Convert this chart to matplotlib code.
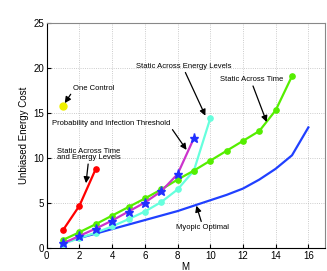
import numpy as np
import matplotlib
matplotlib.use("Agg")
import matplotlib.pyplot as plt

plt.rcParams['font.family'] = ['Liberation Sans', 'DejaVu Sans']

# data
m_red = [1, 2, 3]
y_red = [2.0, 4.7, 8.8]

m_one = [1]
y_one = [15.8]

m_green = list(range(1, 16))
y_green = [0.9, 1.75, 2.65, 3.6, 4.55, 5.5, 6.5, 7.6, 8.6, 9.7, 10.8, 11.9, 13.0, 15.3, 19.1]

m_star = list(range(1, 10))
y_star = [0.5, 1.35, 2.15, 3.05, 4.05, 5.05, 6.3, 8.2, 12.2]

m_cyan = list(range(1, 11))
y_cyan = [0.45, 1.1, 1.7, 2.4, 3.2, 4.05, 5.1, 6.5, 8.6, 14.4]

m_myopic = list(range(1, 17))
y_myopic = [0.6, 1.1, 1.6, 2.1, 2.6, 3.1, 3.6, 4.1, 4.7, 5.3, 5.9, 6.6, 7.6, 8.8, 10.3, 13.4]

fig = plt.figure(figsize=(3.27, 2.71), dpi=100)
ax = fig.add_axes([0.143, 0.085, 0.85, 0.83])

ax.plot(m_myopic, y_myopic, color='#2040ff', lw=1.6)
ax.plot(m_cyan, y_cyan, color='#66ffdd', lw=1.6, marker='o', ms=3.8)
ax.plot(m_green, y_green, color='#55ee00', lw=1.6, marker='o', ms=3.8)
ax.plot(m_star, y_star, color='#cc33cc', lw=1.6)
ax.plot(m_star, y_star, ls='none', marker='*', color='#2030ff', ms=6.5)
ax.plot(m_red, y_red, color='#ff0000', lw=1.6, marker='o', ms=3.8)
ax.plot(m_one, y_one, ls='none', marker='o', color='#eef000', ms=5)

ax.set_xlim(0, 17)
ax.set_ylim(0, 25)
ax.set_xticks(range(0, 17, 2))
ax.set_yticks(range(0, 26, 5))
ax.grid(True, ls=':', color='#bbbbbb', lw=0.6)
ax.tick_params(direction='in', labelsize=7, length=3, pad=2)
ax.set_xlabel('M', fontsize=7, labelpad=1)
ax.set_ylabel('Unbiased Energy Cost', fontsize=7, labelpad=3)
for s in ['top', 'right']:
    ax.spines[s].set_color('#888888')

arr = dict(arrowstyle='-|>', color='black', lw=0.9, mutation_scale=9, shrinkA=0, shrinkB=0)
fs = 5.5
ax.annotate('One Control', xy=(1.1, 16.1), xytext=(2.9, 17.7), fontsize=fs,
            ha='center', va='center', arrowprops=dict(arr, relpos=(0, 0.3)))
ax.annotate('Static Across Energy Levels', xy=(9.7, 14.7), xytext=(8.4, 20.2), fontsize=fs,
            ha='center', va='center', arrowprops=dict(arr, relpos=(0.5, 0)))
ax.annotate('Static Across Time', xy=(13.45, 14.0), xytext=(12.55, 18.7), fontsize=fs,
            ha='center', va='center', arrowprops=dict(arr, relpos=(0.5, 0)))
ax.annotate('Probability and Infection Threshold', xy=(8.55, 10.9), xytext=(3.95, 13.85), fontsize=fs,
            ha='center', va='center', arrowprops=dict(arr, relpos=(1, 0)))
ax.annotate('Static Across Time\nand Energy Levels', xy=(2.4, 7.2), xytext=(2.55, 10.4), fontsize=fs,
            ha='center', va='center', linespacing=0.95, arrowprops=dict(arr, relpos=(0.5, 0)))
ax.annotate('Myopic Optimal', xy=(9.15, 4.7), xytext=(9.5, 2.25), fontsize=fs,
            ha='center', va='center', arrowprops=dict(arr, relpos=(0.5, 1)))

fig.savefig('out.png', dpi=100)
